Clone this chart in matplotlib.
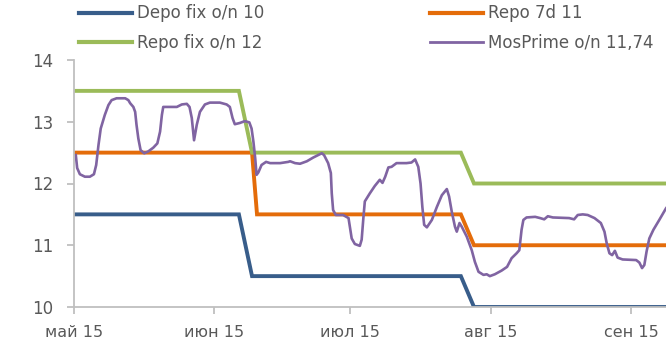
import datetime as dt

import matplotlib
matplotlib.use('Agg')
import matplotlib.pyplot as plt
import matplotlib.dates as mdates
from matplotlib.lines import Line2D

plt.rcParams['font.family'] = ['DejaVu Sans']

start = dt.datetime(2015, 5, 1)

# policy rate corner points, days counted from 1 May 2015
step_days = [0, 36.4, 39.3, 85.4, 88.3, 140]
depo_fix = [11.5, 11.5, 10.5, 10.5, 10.0, 10.0]
repo_fix = [13.5, 13.5, 12.5, 12.5, 12.0, 12.0]
repo7_days = [0, 39.3, 40.4, 85.4, 88.3, 140]
repo_7d = [12.5, 12.5, 11.5, 11.5, 11.0, 11.0]

# MosPrime overnight fixing
mos_days = [0.4, 0.7, 1.3, 2.4, 3.5, 4.4, 4.9, 5.4, 5.9, 6.8, 7.6, 8.3, 9.4,
            11.3, 12.0, 12.4, 13.1, 13.5, 13.8, 14.2, 14.7, 15.5, 16.4, 17.5,
            18.4, 19.0, 19.4, 19.7, 22.7, 23.8, 24.9, 25.5, 26.0, 26.5, 27.1,
            27.8, 28.9, 30.0, 32.2, 33.7, 34.4, 35.0, 35.5, 36.6, 37.7, 38.7,
            39.2, 39.6, 40.0, 40.3, 40.7, 41.4, 42.4, 43.3, 45.5, 47.3, 47.7,
            48.8, 49.9, 51.4, 52.8, 53.6, 54.7, 55.2, 56.1, 56.7, 56.9, 57.2,
            57.8, 59.4, 60.6, 60.9, 61.3, 62.0, 63.1, 63.5, 63.9, 64.2, 65.3,
            66.4, 67.5, 68.1, 68.7, 69.4, 70.1, 71.2, 73.4, 74.5, 75.3, 76.0,
            76.5, 76.9, 77.3, 77.9, 79.0, 80.1, 81.2, 82.3, 82.8, 83.4, 84.1,
            84.5, 85.1, 85.6, 86.7, 87.8, 88.5, 89.3, 90.4, 91.1, 91.8, 92.9,
            94.4, 95.6, 96.6, 97.7, 98.3, 98.8, 99.2, 99.9, 101.8, 102.9,
            103.8, 104.6, 105.7, 109.3, 110.4, 111.2, 112.3, 113.4, 114.9,
            116.3, 117.1, 117.6, 118.2, 118.8, 119.4, 120.0, 121.1, 124.1,
            124.8, 125.4, 125.9, 126.4, 127.0, 127.9, 129.2, 130.7, 131.6, 133.0]
mosprime = [12.46, 12.25, 12.15, 12.11, 12.11, 12.15, 12.30, 12.62, 12.89,
            13.11, 13.27, 13.35, 13.38, 13.38, 13.35, 13.30, 13.24, 13.16,
            12.95, 12.73, 12.54, 12.49, 12.52, 12.58, 12.65, 12.84, 13.11,
            13.24, 13.24, 13.28, 13.29, 13.24, 13.06, 12.70, 12.95, 13.16,
            13.28, 13.31, 13.31, 13.28, 13.24, 13.06, 12.96, 12.98, 13.01,
            12.99, 12.89, 12.68, 12.41, 12.14, 12.18, 12.30, 12.35, 12.33,
            12.33, 12.35, 12.36, 12.33, 12.32, 12.36, 12.42, 12.45, 12.49,
            12.46, 12.33, 12.17, 11.84, 11.57, 11.49, 11.49, 11.44, 11.30,
            11.11, 11.02, 10.99, 11.09, 11.46, 11.71, 11.84, 11.96, 12.06,
            12.01, 12.11, 12.26, 12.27, 12.33, 12.33, 12.34, 12.39, 12.27,
            12.00, 11.62, 11.33, 11.29, 11.41, 11.62, 11.81, 11.91, 11.79,
            11.54, 11.30, 11.22, 11.36, 11.30, 11.14, 10.92, 10.73, 10.57,
            10.52, 10.53, 10.50, 10.53, 10.59, 10.65, 10.79, 10.87, 10.92,
            11.25, 11.41, 11.45, 11.46, 11.44, 11.42, 11.47, 11.45, 11.44,
            11.42, 11.49, 11.50, 11.49, 11.44, 11.36, 11.22, 11.03, 10.87,
            10.84, 10.91, 10.80, 10.77, 10.76, 10.72, 10.63, 10.68, 10.90,
            11.11, 11.25, 11.41, 11.60, 11.68, 11.74]

month_ticks = [dt.datetime(2015, m, 1) for m in range(5, 10)]
month_labels = ['май 15', 'июн 15', 'июл 15', 'авг 15', 'сен 15']

labels = ['Depo fix o/n 10', 'Repo 7d 11', 'Repo fix o/n 12', 'MosPrime o/n 11,74']
colors = ['#385D8A', '#E46C0A', '#9BBB59', '#8064A2']

base = mdates.date2num(start)


def to_dates(days):
    return [base + d for d in days]


fig = plt.figure(figsize=(6.66, 3.43), dpi=100)
ax = fig.add_axes([74 / 666, 1 - 307 / 343, 1 - 74 / 666, 247 / 343])

ax.plot(to_dates(step_days), depo_fix, color=colors[0], lw=2.8,
        solid_joinstyle='miter')
ax.plot(to_dates(repo7_days), repo_7d, color=colors[1], lw=2.8,
        solid_joinstyle='miter')
ax.plot(to_dates(step_days), repo_fix, color=colors[2], lw=2.8,
        solid_joinstyle='miter')
ax.plot(to_dates(mos_days), mosprime, color=colors[3], lw=1.9,
        solid_joinstyle='round')

ax.set_ylim(10, 14)
ax.set_yticks([10, 11, 12, 13, 14])
ax.set_xlim(base, base + (666 - 74) / 4.53)
ax.set_xticks(mdates.date2num(month_ticks))
ax.set_xticklabels(month_labels)

for side in ['top', 'right']:
    ax.spines[side].set_visible(False)
for side in ['left', 'bottom']:
    ax.spines[side].set_color('#BFBFBF')
    ax.spines[side].set_linewidth(1.3)
ax.tick_params(axis='both', colors='#BFBFBF', labelcolor='#595959',
               labelsize=12, length=5, width=1.3, direction='out')
ax.tick_params(axis='y', pad=10)
ax.tick_params(axis='x', labelsize=11.5, pad=8)

handles = [Line2D([], [], color=colors[i], lw=3 if i < 3 else 2)
           for i in range(4)]
order = [0, 2, 1, 3]
fig.legend([handles[i] for i in order], [labels[i] for i in order],
           loc='upper left', bbox_to_anchor=(79 / 666, 1 - 4.5 / 343),
           ncol=2, frameon=False, fontsize=12, labelcolor='#595959',
           handlelength=3.2, handletextpad=0.3, columnspacing=9.9,
           labelspacing=0.69, borderpad=0, borderaxespad=0)

fig.savefig('out.png', dpi=100)
